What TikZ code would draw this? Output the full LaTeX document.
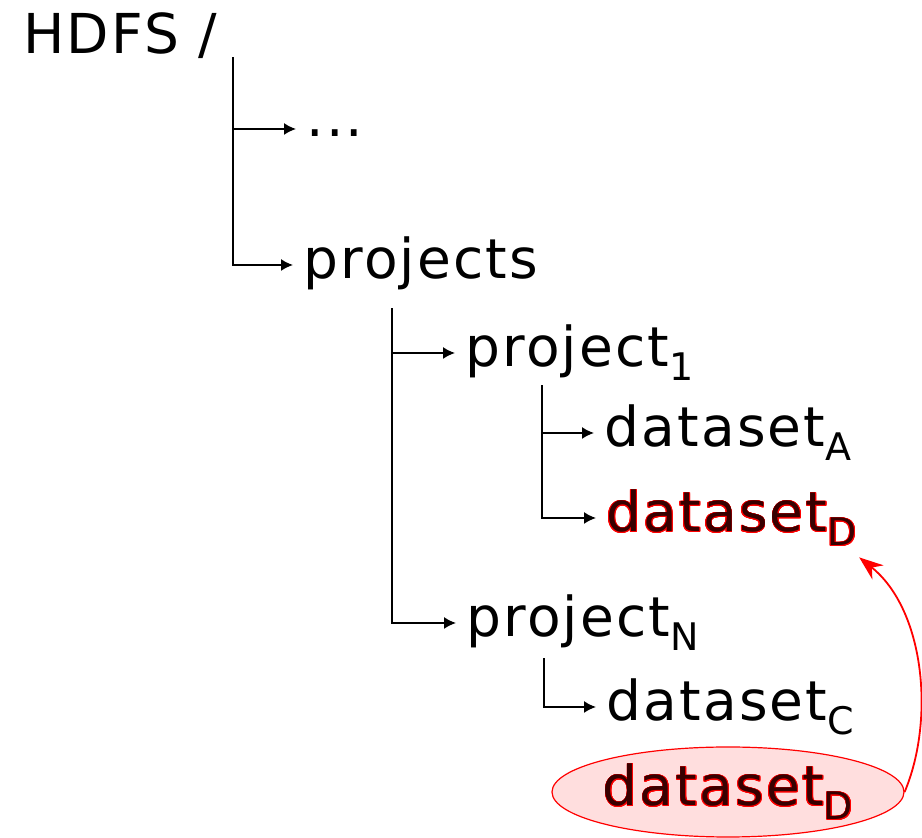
\documentclass[tikz,border=0pt]{standalone}
\usepackage{fontspec}
\setmainfont{DejaVu Sans}[LetterSpace=4]
\usepackage{tikz}
\usepackage[copies]{contour}
\usetikzlibrary{arrows.meta,calc,shapes.geometric}

\contourlength{0.35pt}
\contournumber{16}
\newcommand{\idx}[1]{\raisebox{-7pt}{\fontsize{19}{19}\selectfont #1}}
\newcommand{\dsred}[1]{\contour{red}{\textcolor{red!22!black}{#1}}}

\begin{document}
\begin{tikzpicture}[x=0.5pt,y=-0.5pt,>={Latex[length=6pt,width=6pt]},
  entry/.style={anchor=west,inner xsep=5pt,inner ysep=0pt,
    font=\fontsize{27.5}{33}\selectfont,text height=21pt,text depth=7pt},
  tree/.style={->,line width=0.8pt}]
  \useasboundingbox (0,0) rectangle (922,838);
  % root and first level
  \node[entry] (hdfs) at (13,40) {HDFS /};
  \node[entry] (dots) at (296,129) {\raisebox{3pt}{...}};
  \node[entry] (projects) at (293,265) {projects};
  % projects
  \node[entry] (proj1) at (455,353) {project\idx{1}};
  \node[entry] (projN) at (456,623) {project\idx{N}};
  % datasets
  \node[entry] (dsA) at (594,433) {dataset\idx{A}};
  \node[entry] (dsD) at (596,518) {\dsred{dataset\idx{D}}};
  \node[entry] (dsC) at (596,707) {dataset\idx{C}};
  \node[entry,anchor=center,ellipse,draw=red,fill=red!13,line width=0.6pt,
    inner sep=-20pt,minimum width=176pt,minimum height=45pt]
    (dsDcopy) at (728,792) {\dsred{dataset\idx{D}}};
  % tree lines
  \draw[tree] ($(hdfs.south west)+(220,-11)$) |- (dots);
  \draw[tree] ($(hdfs.south west)+(220,-11)$) |- (projects);
  \draw[tree] ($(projects.south west)+(99,15)$) |- (proj1);
  \draw[tree] ($(projects.south west)+(99,15)$) |- (projN);
  \draw[tree] ($(proj1.south west)+(87,4)$) |- (dsA);
  \draw[tree] ($(proj1.south west)+(87,4)$) |- (dsD);
  \draw[tree] ($(projN.south west)+(88,7)$) |- (dsC);
  % link back to the original
  \draw[->,red,line width=0.9pt,>={Stealth[length=12pt,width=9pt]}]
    (dsDcopy.east) .. controls (935,720) and (925,610) .. ($(dsD.south east)+(-8,11)$);
\end{tikzpicture}
\end{document}
